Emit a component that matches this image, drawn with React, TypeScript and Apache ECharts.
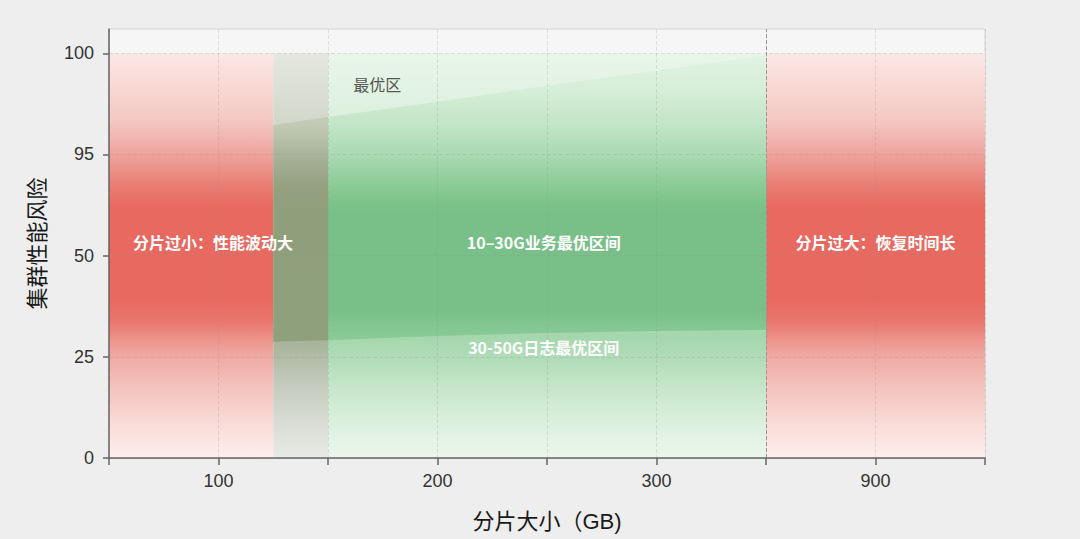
import React, { useEffect, useRef } from "react";
import * as echarts from "echarts";

// axis ticks (x is an evenly spaced index axis, labels only on odd ticks)
const xTickLabels = ["", "100", "", "200", "", "300", "", "900", ""];
const yTickLabels = ["0", "25", "50", "95", "100"];

// background zones along x (index units)
const zoneStart = [0, 1.5, 2, 6];
const zoneEnd = [1.5, 2, 6, 8];
const zoneKind = ["red", "olive", "green", "red"];

// the optimal band (y in tick index units)
const bandX = [1.5, 2, 3, 4, 5, 6];
const bandUpper = [3.29, 3.37, 3.52, 3.68, 3.83, 3.98];
const bandLower = [1.15, 1.165, 1.205, 1.235, 1.255, 1.265];

// annotations
const labelText = [
  "分片过小：性能波动大",
  "10–30G业务最优区间",
  "分片过大：恢复时间长",
  "30-50G日志最优区间",
  "最优区",
];
const labelX = [0.95, 3.97, 7, 3.97, 2.45];
const labelY = [2.13, 2.13, 2.13, 1.1, 3.7];

const stops = {
  red: [
    [0, "#fbe8e5"], [0.165, "#f5c8c3"], [0.247, "#eea59e"], [0.33, "#e97c72"],
    [0.38, "#e8695f"], [0.61, "#e8695f"], [0.66, "#e9756c"], [0.733, "#eea39c"],
    [0.807, "#f3bdb8"], [0.906, "#f9d9d5"], [1, "#fdefed"],
  ],
  green: [
    [0, "#e9f6e9"], [0.16, "#dcf0dd"], [0.4, "#b8e0be"], [0.7, "#a4d7ad"],
    [0.753, "#b1dcb8"], [0.835, "#c8e7cc"], [0.916, "#dcf0de"], [1, "#ebf7eb"],
  ],
  olive: [
    [0, "#e5e7e0"], [0.165, "#d3d8cb"], [0.45, "#b8c0aa"], [0.72, "#a8b49c"],
    [0.81, "#c2c9bb"], [0.91, "#d8dcd4"], [1, "#e8ebe5"],
  ],
  greenBand: [
    [0, "#e2f3e3"], [0.091, "#d6eed8"], [0.173, "#c3e5c8"], [0.257, "#a8d9b0"],
    [0.314, "#8fcd9a"], [0.363, "#7fc58b"], [0.393, "#79c088"], [0.635, "#79c088"],
    [0.677, "#84c792"], [0.721, "#8ecc99"], [1, "#b0dcb7"],
  ],
  oliveBand: [
    [0, "#d3d8cb"], [0.18, "#c2cab5"], [0.247, "#aab49b"], [0.33, "#95a081"],
    [0.39, "#8f9f7b"], [0.72, "#8fa07c"], [1, "#a8b49c"],
  ],
};

const grad = (kind, yTop, yBot) =>
  new echarts.graphic.LinearGradient(
    0, yTop, 0, yBot,
    stops[kind].map(([offset, color]) => ({ offset, color })),
    true
  );

const App = () => {
  const chartRef = useRef(null);

  useEffect(() => {
    document.body.style.margin = "0";
    document.body.style.background = "#eeeeee";
    if (!chartRef.current) return;
    const chart = echarts.init(chartRef.current, null, { renderer: "svg" });

    const bandPolygon = (api, from, to) => {
      const pts = [];
      for (let i = from; i <= to; i++) pts.push(api.coord([bandX[i], bandUpper[i]]));
      for (let i = to; i >= from; i--) pts.push(api.coord([bandX[i], bandLower[i]]));
      return pts;
    };
    const splitIdx = bandX.indexOf(2);

    const options = {
      animation: false,
      backgroundColor: "#eeeeee",
      textStyle: { fontFamily: '"Liberation Sans", "Noto Sans CJK SC", sans-serif' },
      grid: {
        left: 109, right: 95, top: 29, bottom: 81,
        show: true, backgroundColor: "#f6f6f6", borderColor: "#d4d4d4", borderWidth: 1,
      },
      xAxis: {
        type: "value", min: 0, max: 8, interval: 1, z: 5,
        name: "分片大小（GB)", nameLocation: "middle", nameGap: 52,
        nameTextStyle: { fontSize: 22, color: "#1a1a1a" },
        axisLine: { lineStyle: { color: "#666", width: 1.5 } },
        axisTick: { length: 7, lineStyle: { color: "#666", width: 1.5 } },
        axisLabel: { fontSize: 18, color: "#333", margin: 14, formatter: (v) => xTickLabels[v] ?? "" },
        splitLine: { lineStyle: { color: "rgba(140,140,140,0.22)", type: "dashed" } },
      },
      yAxis: {
        type: "value", min: 0, max: 4.24, z: 5,
        name: "集群性能风险", nameLocation: "middle", nameGap: 61,
        nameTextStyle: { fontSize: 22, color: "#1a1a1a" },
        axisLine: { show: true, lineStyle: { color: "#666", width: 1.5 } },
        axisTick: { show: true, length: 6, customValues: [0, 1, 2, 3, 4], lineStyle: { color: "#666", width: 1.5 } },
        axisLabel: { fontSize: 18, color: "#333", margin: 15, customValues: [0, 1, 2, 3, 4], formatter: (v) => yTickLabels[v] ?? "" },
        splitLine: { lineStyle: { color: "rgba(140,140,140,0.22)", type: "dashed" } },
      },
      series: [
        {
          type: "custom",
          name: "zones",
          data: zoneStart.map((x, i) => [x, zoneEnd[i], 0, 4]),
          encode: { x: [0, 1], y: [2, 3] },
          renderItem: (params, api) => {
            const p0 = api.coord([api.value(0), api.value(3)]);
            const p1 = api.coord([api.value(1), api.value(2)]);
            return {
              type: "rect",
              shape: { x: p0[0], y: p0[1], width: p1[0] - p0[0], height: p1[1] - p0[1] },
              style: { fill: grad(zoneKind[params.dataIndex], p0[1], p1[1]) },
            };
          },
          z: 1,
        },
        {
          type: "custom",
          name: "band",
          data: bandX.map((x, i) => [x, bandLower[i], bandUpper[i]]),
          encode: { x: 0, y: [1, 2] },
          renderItem: (params, api) => {
            if (params.dataIndex !== 0) return null;
            const yTop = api.coord([0, 4])[1];
            const yBot = api.coord([0, 0])[1];
            return {
              type: "group",
              children: [
                { type: "polygon", shape: { points: bandPolygon(api, 0, splitIdx) }, style: { fill: grad("oliveBand", yTop, yBot) } },
                { type: "polygon", shape: { points: bandPolygon(api, splitIdx, bandX.length - 1) }, style: { fill: grad("greenBand", yTop, yBot) } },
              ],
            };
          },
          z: 2,
        },
        {
          type: "custom",
          name: "labels",
          data: labelX.map((x, i) => [x, labelY[i]]),
          renderItem: (params, api) => {
            const p = api.coord([api.value(0), api.value(1)]);
            const dark = params.dataIndex === labelText.length - 1;
            return {
              type: "text",
              x: p[0], y: p[1],
              style: {
                text: labelText[params.dataIndex],
                fill: dark ? "#555" : "#ffffff",
                fontSize: 16,
                fontWeight: dark ? "normal" : "bold",
                fontFamily: '"Noto Sans CJK SC", sans-serif',
                align: "center", verticalAlign: "middle",
              },
            };
          },
          markLine: {
            silent: true, symbol: "none", label: { show: false },
            lineStyle: { color: "#9a9a9a", type: "dashed", width: 1 },
            data: [{ xAxis: 6 }],
          },
          z: 6,
        },
      ],
    };

    chart.setOption(options);
    return () => chart.dispose();
  }, []);

  return <div ref={chartRef} style={{ width: "1080px", height: "539px" }} />;
};

export default App;
